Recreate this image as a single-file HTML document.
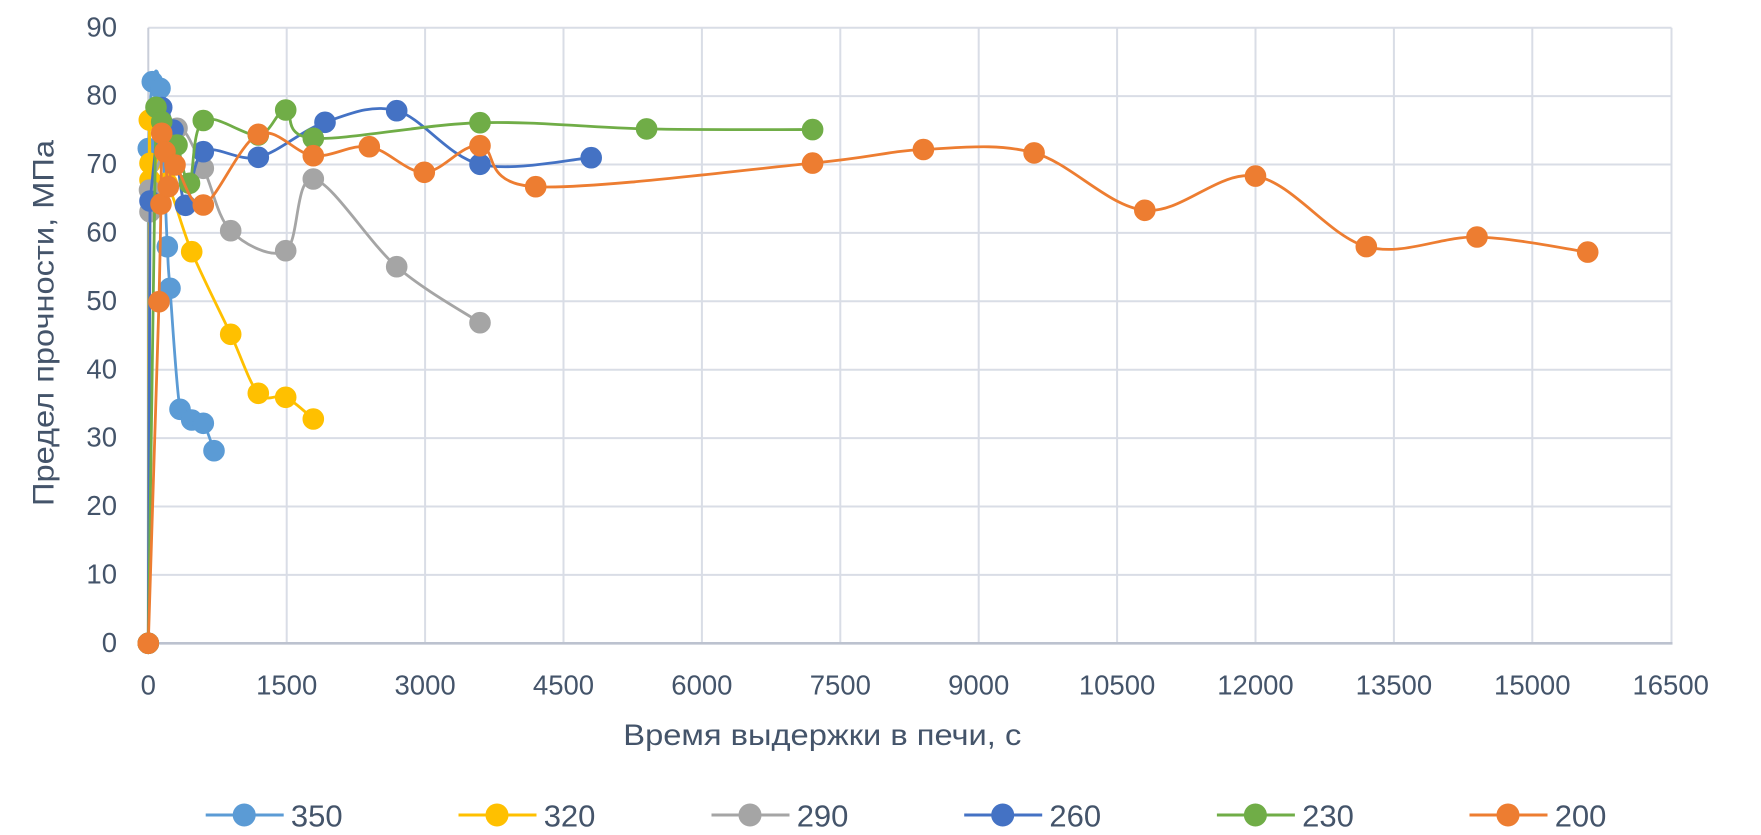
<!DOCTYPE html>
<html>
<head>
<meta charset="utf-8">
<style>
  html,body{margin:0;padding:0;background:#fff;}
  svg{display:block;}
  text{font-family:"Liberation Sans","DejaVu Sans",sans-serif;fill:#44546A;}
</style>
</head>
<body>
<svg width="1761" height="835" viewBox="0 0 1761 835" xmlns="http://www.w3.org/2000/svg">
  <rect x="0" y="0" width="1761" height="835" fill="#ffffff"/>

  <!-- gridlines -->
  <g stroke="#D9DDE6" stroke-width="2" fill="none">
    <line x1="148.3" y1="27.7" x2="1671.5" y2="27.7"/>
    <line x1="148.3" y1="96.1" x2="1671.5" y2="96.1"/>
    <line x1="148.3" y1="164.5" x2="1671.5" y2="164.5"/>
    <line x1="148.3" y1="232.9" x2="1671.5" y2="232.9"/>
    <line x1="148.3" y1="301.3" x2="1671.5" y2="301.3"/>
    <line x1="148.3" y1="369.7" x2="1671.5" y2="369.7"/>
    <line x1="148.3" y1="438.1" x2="1671.5" y2="438.1"/>
    <line x1="148.3" y1="506.5" x2="1671.5" y2="506.5"/>
    <line x1="148.3" y1="574.9" x2="1671.5" y2="574.9"/>
    <line x1="286.7" y1="27.7" x2="286.7" y2="643.3"/>
    <line x1="425.1" y1="27.7" x2="425.1" y2="643.3"/>
    <line x1="563.5" y1="27.7" x2="563.5" y2="643.3"/>
    <line x1="701.9" y1="27.7" x2="701.9" y2="643.3"/>
    <line x1="840.3" y1="27.7" x2="840.3" y2="643.3"/>
    <line x1="978.7" y1="27.7" x2="978.7" y2="643.3"/>
    <line x1="1117.1" y1="27.7" x2="1117.1" y2="643.3"/>
    <line x1="1255.5" y1="27.7" x2="1255.5" y2="643.3"/>
    <line x1="1393.9" y1="27.7" x2="1393.9" y2="643.3"/>
    <line x1="1532.3" y1="27.7" x2="1532.3" y2="643.3"/>
    <line x1="1671.5" y1="27.7" x2="1671.5" y2="643.3"/>
  </g>
  <line x1="148.3" y1="27.7" x2="148.3" y2="643.3" stroke="#C9CED9" stroke-width="2"/>
  <line x1="147" y1="643.3" x2="1672.5" y2="643.3" stroke="#BCC2CF" stroke-width="2.6"/>

  <!-- Y tick labels -->
  <g font-size="27.5" text-anchor="end">
    <text x="117" y="651.9">0</text>
    <text x="117" y="583.5">10</text>
    <text x="117" y="515.1">20</text>
    <text x="117" y="446.7">30</text>
    <text x="117" y="378.3">40</text>
    <text x="117" y="309.9">50</text>
    <text x="117" y="241.5">60</text>
    <text x="117" y="173.1">70</text>
    <text x="117" y="104.7">80</text>
    <text x="117" y="36.3">90</text>
  </g>

  <!-- X tick labels -->
  <g font-size="27.5" text-anchor="middle">
    <text x="148.3" y="694.3">0</text>
    <text x="286.7" y="694.3">1500</text>
    <text x="425.1" y="694.3">3000</text>
    <text x="563.5" y="694.3">4500</text>
    <text x="701.9" y="694.3">6000</text>
    <text x="840.3" y="694.3">7500</text>
    <text x="978.7" y="694.3">9000</text>
    <text x="1117.1" y="694.3">10500</text>
    <text x="1255.5" y="694.3">12000</text>
    <text x="1393.9" y="694.3">13500</text>
    <text x="1532.3" y="694.3">15000</text>
    <text x="1670.7" y="694.3">16500</text>
  </g>

  <!-- Axis titles -->
  <text x="623.3" y="745" font-size="29.5" textLength="398" lengthAdjust="spacingAndGlyphs">Время выдержки в печи, с</text>
  <text transform="translate(53.5,323) rotate(-90)" text-anchor="middle" font-size="29.5" textLength="366" lengthAdjust="spacingAndGlyphs">Предел прочности, МПа</text>

  <!-- Series 350 -->
  <g>
    <path id="p350" fill="none" stroke="#5B9BD5" stroke-width="2.8" stroke-linejoin="round"
      d="M148.3,643.3 L148.3,148.5 L152.3,81.7 L160,88.3 L167.3,246.7 L170,288.3 L180,409.3 L191.7,420 L203.3,423.3 L214,450.7"/>
    <g fill="#5B9BD5" stroke="#5B9BD5" stroke-width="1">
      <circle cx="148.3" cy="643.3" r="10.3"/>
      <circle cx="148.3" cy="148.5" r="10.3"/>
      <circle cx="152.3" cy="81.7" r="10.3"/>
      <circle cx="160" cy="88.3" r="10.3"/>
      <circle cx="167.3" cy="246.7" r="10.3"/>
      <circle cx="170" cy="288.3" r="10.3"/>
      <circle cx="180" cy="409.3" r="10.3"/>
      <circle cx="191.7" cy="420" r="10.3"/>
      <circle cx="203.3" cy="423.3" r="10.3"/>
      <circle cx="214" cy="450.7" r="10.3"/>
    </g>
  </g>

  <!-- Series 320 -->
  <g>
    <path id="p320" fill="none" stroke="#FFC000" stroke-width="2.8" stroke-linejoin="round"
      d="M148.3,643.3 L149.3,120 L150,163.3 L150,180 L167,183 L191.7,251.7 L230.7,334.3 L258.3,393.3 L285.7,397.3 L313.3,419"/>
    <g fill="#FFC000" stroke="#FFC000" stroke-width="1">
      <circle cx="148.3" cy="643.3" r="10.3"/>
      <circle cx="149.3" cy="120" r="10.3"/>
      <circle cx="150" cy="163.3" r="10.3"/>
      <circle cx="150" cy="180" r="10.3"/>
      <circle cx="167" cy="183" r="10.3"/>
      <circle cx="191.7" cy="251.7" r="10.3"/>
      <circle cx="230.7" cy="334.3" r="10.3"/>
      <circle cx="258.3" cy="393.3" r="10.3"/>
      <circle cx="285.7" cy="397.3" r="10.3"/>
      <circle cx="313.3" cy="419" r="10.3"/>
    </g>
  </g>

  <!-- Series 290 -->
  <g>
    <path id="p290" fill="none" stroke="#A5A5A5" stroke-width="2.8" stroke-linejoin="round"
      d="M148.3,643.3 L150,211.7 L149.5,190 L177,128.3 L203.3,168.3 L230.7,230.7 L285.7,250.7 L313.3,179 L396.7,266.7 L480,322.7"/>
    <g fill="#A5A5A5" stroke="#A5A5A5" stroke-width="1">
      <circle cx="148.3" cy="643.3" r="10.3"/>
      <circle cx="150" cy="211.7" r="10.3"/>
      <circle cx="149.5" cy="190" r="10.3"/>
      <circle cx="177" cy="128.3" r="10.3"/>
      <circle cx="203.3" cy="168.3" r="10.3"/>
      <circle cx="230.7" cy="230.7" r="10.3"/>
      <circle cx="285.7" cy="250.7" r="10.3"/>
      <circle cx="313.3" cy="179" r="10.3"/>
      <circle cx="396.7" cy="266.7" r="10.3"/>
      <circle cx="480" cy="322.7" r="10.3"/>
    </g>
  </g>

  <!-- Series 260 -->
  <g>
    <path id="p260" fill="none" stroke="#4472C4" stroke-width="2.8" stroke-linejoin="round"
      d="M148.3,643.3 L150,201 L161.7,107.5 L173,130 L185.5,205.3 L203.3,151.7 L258.3,157.3 L325,122.3 L396.7,110.7 L480,164.3 L591.2,157.7"/>
    <g fill="#4472C4" stroke="#4472C4" stroke-width="1">
      <circle cx="148.3" cy="643.3" r="10.3"/>
      <circle cx="150" cy="201" r="10.3"/>
      <circle cx="161.7" cy="107.5" r="10.3"/>
      <circle cx="173" cy="130" r="10.3"/>
      <circle cx="185.5" cy="205.3" r="10.3"/>
      <circle cx="203.3" cy="151.7" r="10.3"/>
      <circle cx="258.3" cy="157.3" r="10.3"/>
      <circle cx="325" cy="122.3" r="10.3"/>
      <circle cx="396.7" cy="110.7" r="10.3"/>
      <circle cx="480" cy="164.3" r="10.3"/>
      <circle cx="591.2" cy="157.7" r="10.3"/>
    </g>
  </g>

  <!-- Series 230 -->
  <g>
    <path id="p230" fill="none" stroke="#70AD47" stroke-width="2.8" stroke-linejoin="round"
      d="M148.3,643.3 L156,107.3 L161.7,121.7 L177,145 L189.5,183.3 L203.3,120.5 L258.3,135 L285.7,110 L313.3,138.3 L480,122.7 L646.6,128.9 L812.6,129.6"/>
    <g fill="#70AD47" stroke="#70AD47" stroke-width="1">
      <circle cx="148.3" cy="643.3" r="10.3"/>
      <circle cx="156" cy="107.3" r="10.3"/>
      <circle cx="161.7" cy="121.7" r="10.3"/>
      <circle cx="177" cy="145" r="10.3"/>
      <circle cx="189.5" cy="183.3" r="10.3"/>
      <circle cx="203.3" cy="120.5" r="10.3"/>
      <circle cx="258.3" cy="135" r="10.3"/>
      <circle cx="285.7" cy="110" r="10.3"/>
      <circle cx="313.3" cy="138.3" r="10.3"/>
      <circle cx="480" cy="122.7" r="10.3"/>
      <circle cx="646.6" cy="128.9" r="10.3"/>
      <circle cx="812.6" cy="129.6" r="10.3"/>
    </g>
  </g>

  <!-- Series 200 -->
  <g>
    <path id="p200" fill="none" stroke="#ED7D31" stroke-width="2.8" stroke-linejoin="round"
      d="M148.3,643.3 L159,301.7 L161,204 L161.7,133.3 L165,151.7 L168.3,186.7 L175,165 L203.3,205 L258.3,134.3 L313.3,155.7 L369.3,146.7 L424.3,172.3 L480,145.7 L535.7,186.7 L812.6,163.1 L923.4,149.5 L1034.1,152.9 L1144.8,210.3 L1255.5,176.1 L1366.3,246.6 L1477,237 L1587.7,252.1"/>
    <g fill="#ED7D31" stroke="#ED7D31" stroke-width="1">
      <circle cx="148.3" cy="643.3" r="10.3"/>
      <circle cx="159" cy="301.7" r="10.3"/>
      <circle cx="161" cy="204" r="10.3"/>
      <circle cx="161.7" cy="133.3" r="10.3"/>
      <circle cx="165" cy="151.7" r="10.3"/>
      <circle cx="168.3" cy="186.7" r="10.3"/>
      <circle cx="175" cy="165" r="10.3"/>
      <circle cx="203.3" cy="205" r="10.3"/>
      <circle cx="258.3" cy="134.3" r="10.3"/>
      <circle cx="313.3" cy="155.7" r="10.3"/>
      <circle cx="369.3" cy="146.7" r="10.3"/>
      <circle cx="424.3" cy="172.3" r="10.3"/>
      <circle cx="480" cy="145.7" r="10.3"/>
      <circle cx="535.7" cy="186.7" r="10.3"/>
      <circle cx="812.6" cy="163.1" r="10.3"/>
      <circle cx="923.4" cy="149.5" r="10.3"/>
      <circle cx="1034.1" cy="152.9" r="10.3"/>
      <circle cx="1144.8" cy="210.3" r="10.3"/>
      <circle cx="1255.5" cy="176.1" r="10.3"/>
      <circle cx="1366.3" cy="246.6" r="10.3"/>
      <circle cx="1477" cy="237" r="10.3"/>
      <circle cx="1587.7" cy="252.1" r="10.3"/>
    </g>
  </g>

  <!-- Legend -->
  <g stroke-width="3">
    <line x1="205.7" y1="815" x2="283.7" y2="815" stroke="#5B9BD5"/>
    <circle cx="244.2" cy="815" r="11" fill="#5B9BD5" stroke="#5B9BD5" stroke-width="1"/>
    <line x1="458.5" y1="815" x2="536.5" y2="815" stroke="#FFC000"/>
    <circle cx="497" cy="815" r="11" fill="#FFC000" stroke="#FFC000" stroke-width="1"/>
    <line x1="711.5" y1="815" x2="789.5" y2="815" stroke="#A5A5A5"/>
    <circle cx="750" cy="815" r="11" fill="#A5A5A5" stroke="#A5A5A5" stroke-width="1"/>
    <line x1="964.2" y1="815" x2="1042.2" y2="815" stroke="#4472C4"/>
    <circle cx="1002.7" cy="815" r="11" fill="#4472C4" stroke="#4472C4" stroke-width="1"/>
    <line x1="1216.9" y1="815" x2="1294.9" y2="815" stroke="#70AD47"/>
    <circle cx="1255.4" cy="815" r="11" fill="#70AD47" stroke="#70AD47" stroke-width="1"/>
    <line x1="1469.5" y1="815" x2="1547.5" y2="815" stroke="#ED7D31"/>
    <circle cx="1508" cy="815" r="11" fill="#ED7D31" stroke="#ED7D31" stroke-width="1"/>
  </g>
  <g font-size="31">
    <text x="290.9" y="826.7">350</text>
    <text x="543.7" y="826.7">320</text>
    <text x="796.7" y="826.7">290</text>
    <text x="1049.4" y="826.7">260</text>
    <text x="1302.1" y="826.7">230</text>
    <text x="1554.7" y="826.7">200</text>
  </g>
</svg>
<script>
(function(){
  var S = {
    p350:[[148.3,643.3],[148.3,148.5],[152.3,81.7],[160,88.3],[167.3,246.7],[170,288.3],[180,409.3],[191.7,420],[203.3,423.3],[214,450.7]],
    p320:[[148.3,643.3],[149.3,120],[150,163.3],[150,180],[167,183],[191.7,251.7],[230.7,334.3],[258.3,393.3],[285.7,397.3],[313.3,419]],
    p290:[[148.3,643.3],[150,211.7],[149.5,190],[177,128.3],[203.3,168.3],[230.7,230.7],[285.7,250.7],[313.3,179],[396.7,266.7],[480,322.7]],
    p260:[[148.3,643.3],[150,201],[161.7,107.5],[173,130],[185.5,205.3],[203.3,151.7],[258.3,157.3],[325,122.3],[396.7,110.7],[480,164.3],[591.2,157.7]],
    p230:[[148.3,643.3],[156,107.3],[161.7,121.7],[177,145],[189.5,183.3],[203.3,120.5],[258.3,135],[285.7,110],[313.3,138.3],[480,122.7],[646.6,128.9],[812.6,129.6]],
    p200:[[148.3,643.3],[159,301.7],[161,204],[161.7,133.3],[165,151.7],[168.3,186.7],[175,165],[203.3,205],[258.3,134.3],[313.3,155.7],[369.3,146.7],[424.3,172.3],[480,145.7],[535.7,186.7],[812.6,163.1],[923.4,149.5],[1034.1,152.9],[1144.8,210.3],[1255.5,176.1],[1366.3,246.6],[1477,237],[1587.7,252.1]]
  };
  function f(n){return (Math.round(n*100)/100).toString();}
  function smooth(p){
    var t=1/6, d='M'+f(p[0][0])+','+f(p[0][1]);
    for(var i=0;i<p.length-1;i++){
      var p1=p[i], p2=p[i+1];
      if(i===0){ d+=' L'+f(p2[0])+','+f(p2[1]); continue; }
      var p0=(i===1)?p[i]:p[i-1];
      var p3=p[i+2]||p[i+1];
      var c1x=p1[0]+(p2[0]-p0[0])*t, c1y=p1[1]+(p2[1]-p0[1])*t;
      var c2x=p2[0]-(p3[0]-p1[0])*t, c2y=p2[1]-(p3[1]-p1[1])*t;
      d+=' C'+f(c1x)+','+f(c1y)+' '+f(c2x)+','+f(c2y)+' '+f(p2[0])+','+f(p2[1]);
    }
    return d;
  }
  for(var k in S){
    var el=document.getElementById(k);
    if(el) el.setAttribute('d', smooth(S[k]));
  }
})();
</script>
</body>
</html>
